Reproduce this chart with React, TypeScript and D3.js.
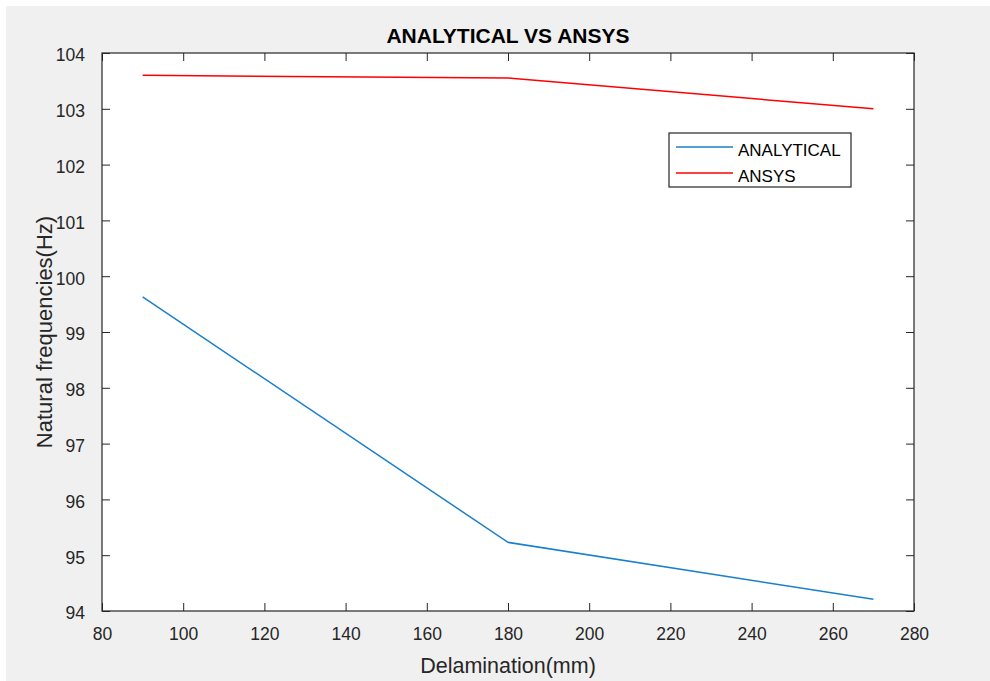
import React, { useEffect, useRef } from 'react';
import * as d3 from 'd3';

const WIDTH = 990;
const HEIGHT = 681;
const AXES = { left: 102, right: 914, top: 53, bottom: 611 };

const delamination = [90, 180, 270];
const analytical = [99.63, 95.23, 94.21];
const ansys = [103.6, 103.55, 103.0];
const xTicks = [80, 100, 120, 140, 160, 180, 200, 220, 240, 260, 280];
const yTicks = [94, 95, 96, 97, 98, 99, 100, 101, 102, 103, 104];
const seriesNames = ['ANALYTICAL', 'ANSYS'];
const seriesColors = ['#1a7fcc', '#FF0000'];

const FONT = '"Liberation Sans", Arial, Helvetica, sans-serif';
const INK = '#262626';

export default function App() {
  const ref = useRef<SVGSVGElement>(null);

  useEffect(() => {
    if (!ref.current) return;
    const svg = d3.select(ref.current);
    svg.selectAll('*').remove();

    // figure background
    svg.append('rect').attr('width', WIDTH).attr('height', HEIGHT).attr('fill', '#ffffff');
    svg.append('rect').attr('x', 6).attr('y', 6).attr('width', WIDTH - 6).attr('height', HEIGHT - 6).attr('fill', '#f0f0f0');

    const x = d3.scaleLinear().domain([80, 280]).range([AXES.left, AXES.right]);
    const y = d3.scaleLinear().domain([94, 104]).range([AXES.bottom, AXES.top]);

    svg.append('rect')
      .attr('x', AXES.left).attr('y', AXES.top)
      .attr('width', AXES.right - AXES.left).attr('height', AXES.bottom - AXES.top)
      .attr('fill', '#ffffff');

    // lines
    const series = [analytical, ansys];
    series.forEach((vals, i) => {
      const line = d3.line<number>()
        .x((_, j) => x(delamination[j]))
        .y((d) => y(d));
      svg.append('path')
        .datum(vals)
        .attr('d', line)
        .attr('fill', 'none')
        .attr('stroke', seriesColors[i])
        .attr('stroke-width', 1.5);
    });

    // axes (ticks pointing inward)
    const styleAxis = (g: d3.Selection<SVGGElement, unknown, null, undefined>) => {
      g.select('.domain').remove();
      g.selectAll('.tick line').attr('stroke', INK).attr('stroke-width', 1);
      g.selectAll('.tick text')
        .attr('fill', INK)
        .style('font-family', FONT)
        .style('font-size', '17.5px');
    };

    svg.append('g')
      .attr('transform', `translate(0, ${AXES.bottom})`)
      .call(d3.axisBottom(x).tickValues(xTicks).tickSize(-8).tickPadding(17).tickFormat(d3.format('d')))
      .call(styleAxis)
      .selectAll('.tick text').attr('dy', '0.71em');

    svg.append('g')
      .attr('transform', `translate(0, ${AXES.top})`)
      .call(d3.axisTop(x).tickValues(xTicks).tickSize(-8).tickFormat(() => ''))
      .call(styleAxis);

    svg.append('g')
      .attr('transform', `translate(${AXES.left}, 0)`)
      .call(d3.axisLeft(y).tickValues(yTicks).tickSize(-8).tickPadding(17).tickFormat(d3.format('d')))
      .call(styleAxis)
      .selectAll('.tick text').attr('dy', '0.45em');

    svg.append('g')
      .attr('transform', `translate(${AXES.right}, 0)`)
      .call(d3.axisRight(y).tickValues(yTicks).tickSize(-8).tickFormat(() => ''))
      .call(styleAxis);

    // box
    svg.append('rect')
      .attr('x', AXES.left).attr('y', AXES.top)
      .attr('width', AXES.right - AXES.left).attr('height', AXES.bottom - AXES.top)
      .attr('fill', 'none')
      .attr('stroke', INK)
      .attr('stroke-width', 1.2);

    // title and labels
    svg.append('text')
      .attr('x', (AXES.left + AXES.right) / 2).attr('y', 43)
      .attr('text-anchor', 'middle')
      .style('font-family', FONT).style('font-size', '21px').style('font-weight', 'bold')
      .attr('fill', '#000000')
      .text('ANALYTICAL VS ANSYS');

    svg.append('text')
      .attr('x', (AXES.left + AXES.right) / 2).attr('y', 673)
      .attr('text-anchor', 'middle')
      .style('font-family', FONT).style('font-size', '21.5px')
      .attr('fill', INK)
      .text('Delamination(mm)');

    svg.append('text')
      .attr('transform', `translate(52, ${(AXES.top + AXES.bottom) / 2}) rotate(-90)`)
      .attr('text-anchor', 'middle')
      .style('font-family', FONT).style('font-size', '22px')
      .attr('fill', INK)
      .text('Natural frequencies(Hz)');

    // legend
    const legend = svg.append('g').attr('transform', 'translate(669, 133)');
    legend.append('rect')
      .attr('width', 182).attr('height', 54)
      .attr('fill', '#ffffff')
      .attr('stroke', INK)
      .attr('stroke-width', 1.2);
    seriesNames.forEach((name, i) => {
      const cy = 14 + i * 26;
      legend.append('line')
        .attr('x1', 7).attr('x2', 64).attr('y1', cy).attr('y2', cy)
        .attr('stroke', seriesColors[i]).attr('stroke-width', 1.5);
      legend.append('text')
        .attr('x', 69).attr('y', cy + 9)
        .style('font-family', FONT).style('font-size', '17px')
        .attr('fill', '#000000')
        .text(name);
    });
  }, []);

  return (
    <svg
      ref={ref}
      width={WIDTH}
      height={HEIGHT}
      style={{ position: 'absolute', left: 0, top: 0, display: 'block' }}
    />
  );
}
